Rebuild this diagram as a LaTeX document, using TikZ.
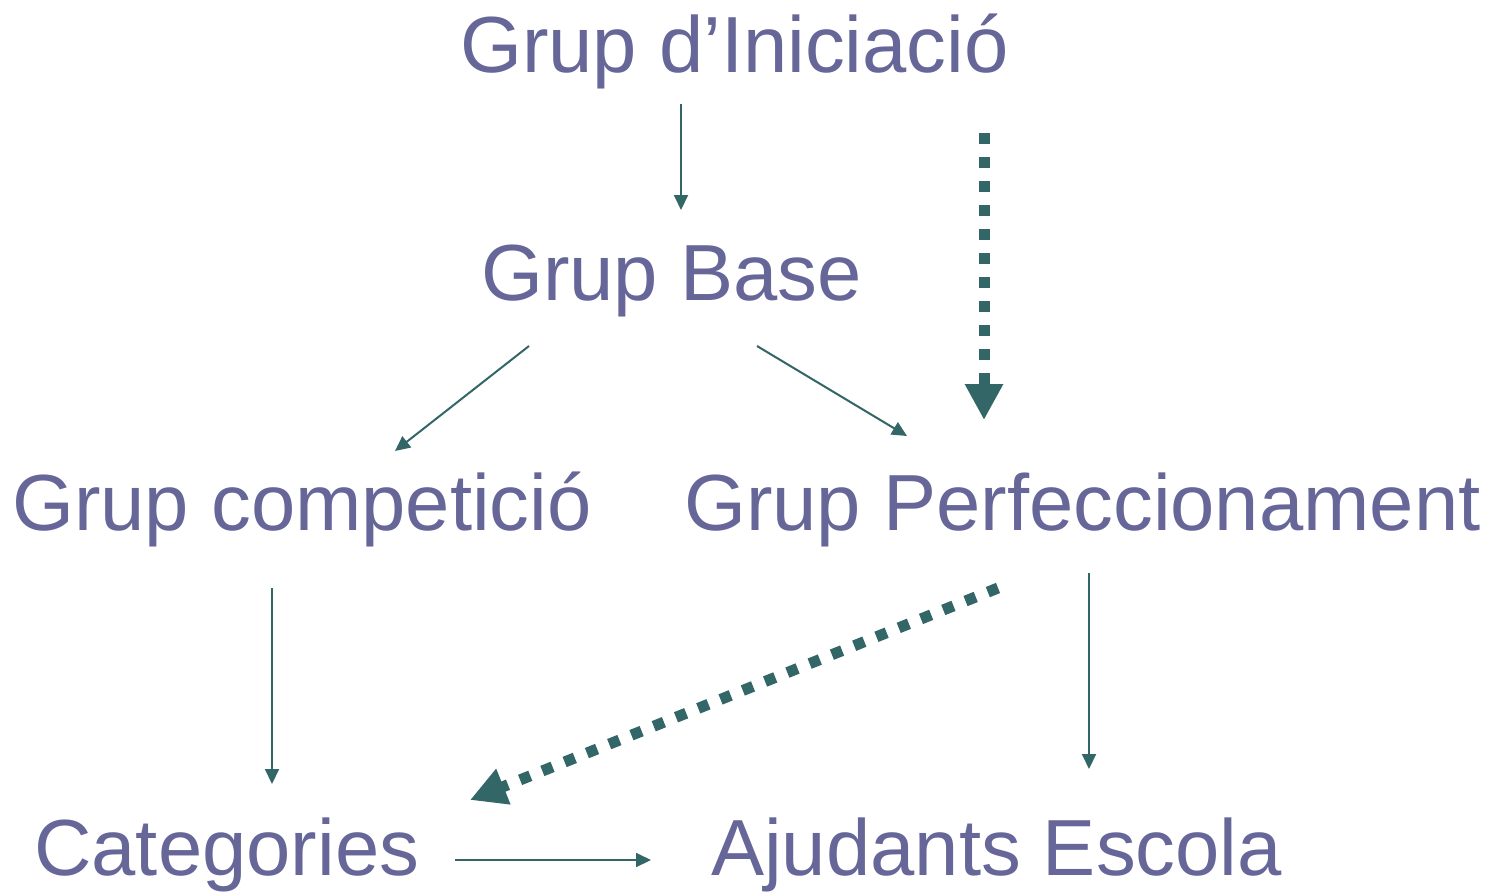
\documentclass[tikz,border=0pt]{standalone}
\usepackage{fontspec}
\setmainfont{Liberation Sans}
\usetikzlibrary{arrows.meta}
\definecolor{txt}{RGB}{102,102,153}
\definecolor{arr}{RGB}{51,102,102}
\begin{document}
\begin{tikzpicture}[x=1pt,y=-1pt,
  lbl/.style={anchor=base west,inner sep=0pt,text=txt,font=\fontsize{79.6}{90}\selectfont},
  thin/.style={draw=arr,line width=2pt,-{Triangle[width=14pt,length=15pt]}},
  dots/.style={draw=arr,line width=11pt,dash pattern=on 11pt off 13pt,-{Triangle[width=36pt,length=36pt]}}]
\useasboundingbox (0,0) rectangle (1502,892);
\node[lbl] (ini) at (460,72) {Grup d’Iniciació};
\node[lbl] (base) at (481,300) {Grup Base};
\node[lbl] (comp) at (12,530) {Grup competició};
\node[lbl] (perf) at (684,530) {Grup Perfeccionament};
\node[lbl] (cat) at (34,875) {Categories};
\node[lbl] (aju) at (711,875) {Ajudants Escola};
\coordinate (a1s) at (681,104); \coordinate (a1e) at (681,210);
\coordinate (d1s) at (984,133); \coordinate (d1e) at (984,420);
\coordinate (a2s) at (529,346); \coordinate (a2e) at (395,451);
\coordinate (a3s) at (757,346); \coordinate (a3e) at (907,436);
\coordinate (a4s) at (272,588); \coordinate (a4e) at (272,784);
\coordinate (a5s) at (1089,573); \coordinate (a5e) at (1089,769);
\coordinate (d2s) at (998,588); \coordinate (d2e) at (470,800);
\coordinate (a6s) at (455,860); \coordinate (a6e) at (651,860);
\draw[thin] (a1s) -- (a1e);
\draw[dots] (d1s) -- (d1e);
\draw[thin] (a2s) -- (a2e);
\draw[thin] (a3s) -- (a3e);
\draw[thin] (a4s) -- (a4e);
\draw[thin] (a5s) -- (a5e);
\draw[dots] (d2s) -- (d2e);
\draw[thin] (a6s) -- (a6e);
\end{tikzpicture}
\end{document}
